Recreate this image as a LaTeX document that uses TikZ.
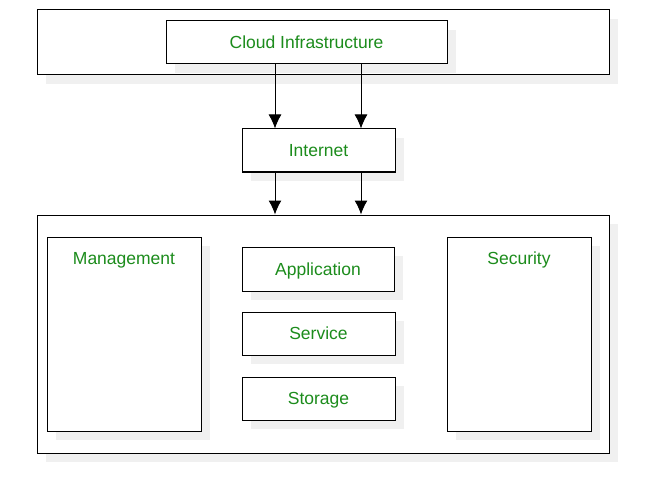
\documentclass[tikz,border=0pt]{standalone}
\usepackage{fontspec}
\setmainfont{Liberation Sans}
\usepackage{tikz}
\usetikzlibrary{calc,shadows,arrows.meta}
\usetikzlibrary{positioning}
\definecolor{labelgreen}{RGB}{28,140,28}

\tikzset{
	boxshadow/.style={drop shadow={shadow xshift=9pt, shadow yshift=-9pt, fill=black!6, opacity=1}},
	layer/.style={draw=black, line width=1pt, fill=white, boxshadow, inner sep=0pt, text=labelgreen,
		font=\fontsize{17.5}{20}\selectfont, text height=14.5pt, text depth=1.7pt},
	arr/.style={-{Latex[length=14pt,width=13pt]}, line width=1pt},
	toplabel/.style={text=labelgreen, font=\fontsize{17.5}{20}\selectfont, anchor=north, yshift=-12pt}
}

\begin{document}
	\begin{tikzpicture}[x=1pt, y=-1pt]
		
		\useasboundingbox[fill=white] (0,0) rectangle (656,492);
		
		\node[layer, minimum width=572pt, minimum height=65pt] (cloud box) at (323,42.5) {};
		\node[layer, minimum width=281pt, minimum height=43pt] (cloud) at (306.5,42.5) {Cloud Infrastructure};
		
		\node[layer, minimum width=153pt, minimum height=43pt] (internet) at (318.5,150.5) {Internet};
		
		\node[layer, minimum width=572pt, minimum height=238pt] (system) at (323,334) {};
		
		\node[layer, minimum width=154pt, minimum height=194pt,
			label={[toplabel]north:Management}] (management) at (124,334) {};
		\node[layer, minimum width=144pt, minimum height=194pt,
			label={[toplabel]north:Security}] (security) at (519,334) {};
		
		\node[layer, minimum width=152pt, minimum height=44pt] (application) at (318,269) {Application};
		\node[layer, minimum width=153pt, minimum height=43pt] (service) at (318.5,333.5) {Service};
		\node[layer, minimum width=153pt, minimum height=43pt] (storage) at (318.5,398.5) {Storage};
		
		\coordinate (left lane) at (275,0);
		\coordinate (right lane) at (361,0);
		
		\draw[arr] (cloud.south -| left lane) -- (internet.north -| left lane);
		\draw[arr] (cloud.south -| right lane) -- (internet.north -| right lane);
		\draw[arr] (internet.south -| left lane) -- (system.north -| left lane);
		\draw[arr] (internet.south -| right lane) -- (system.north -| right lane);
		
	\end{tikzpicture}
\end{document}
